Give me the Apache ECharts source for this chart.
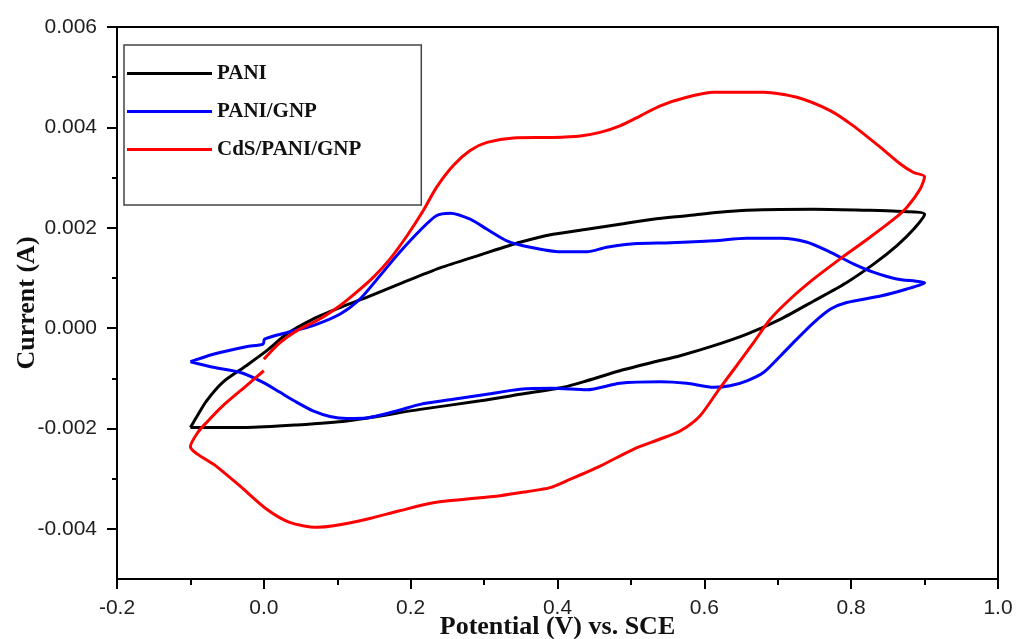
<!DOCTYPE html>
<html>
<head>
<meta charset="utf-8">
<title>Cyclic voltammetry</title>
<script src="https://cdn.jsdelivr.net/npm/echarts@6/dist/echarts.min.js"></script>
<style>
  html, body { margin: 0; padding: 0; background: #fff; }
  #chart { width: 1019px; height: 639px; }
</style>
</head>
<body>
<div id="chart"></div>
<script>
// Series names
const seriesNames = ['PANI', 'PANI/GNP', 'CdS/PANI/GNP'];
const seriesColors = ['#000000', '#0000ff', '#ff0000'];

// PANI: forward sweep then reverse sweep (potential in V, current in A)
const paniPotential = [
  -0.100, -0.092, -0.078, -0.056, -0.024, 0.004, 0.031, 0.067, 0.104, 0.140,
  0.185, 0.240, 0.295, 0.349, 0.394, 0.440, 0.485, 0.530, 0.576, 0.620,
  0.658, 0.749, 0.817, 0.862, 0.900,
  0.885, 0.862, 0.831, 0.794, 0.749, 0.704, 0.658, 0.613, 0.567, 0.530,
  0.485, 0.440, 0.408, 0.349, 0.295, 0.213, 0.113, 0.045, -0.024, -0.100
];
const paniCurrent = [
  -0.00198, -0.00178, -0.00145, -0.00108, -0.00075, -0.00045, -0.00012, 0.00018, 0.00041, 0.00061,
  0.00088, 0.00120, 0.00146, 0.00171, 0.00187, 0.00197, 0.00207, 0.00217, 0.00224, 0.00231,
  0.00235, 0.00237, 0.00235, 0.00233, 0.00227,
  0.00197, 0.00164, 0.00128, 0.00091, 0.00054, 0.00018, -0.00012, -0.00035, -0.00055, -0.00068,
  -0.00085, -0.00105, -0.00118, -0.00132, -0.00145, -0.00162, -0.00185, -0.00193, -0.00198, -0.00198
];

// PANI/GNP
const paniGnpPotential = [
  -0.100, -0.069, -0.024, -0.001, 0.001, 0.031, 0.067, 0.104, 0.131, 0.158,
  0.185, 0.213, 0.235, 0.254, 0.281, 0.304, 0.331, 0.363, 0.404, 0.440,
  0.467, 0.504, 0.554, 0.613, 0.658, 0.704, 0.740, 0.772, 0.803, 0.831,
  0.862, 0.900,
  0.876, 0.840, 0.794, 0.772, 0.749, 0.726, 0.704, 0.681, 0.658, 0.635,
  0.613, 0.576, 0.540, 0.485, 0.440, 0.394, 0.349, 0.304, 0.258, 0.213,
  0.181, 0.140, 0.113, 0.090, 0.067, 0.045, 0.022, -0.001, -0.033, -0.069,
  -0.100
];
const paniGnpCurrent = [
  -0.00067, -0.00052, -0.00037, -0.00032, -0.00022, -0.00009, 0.00005, 0.00028, 0.00058, 0.00104,
  0.00151, 0.00195, 0.00224, 0.00229, 0.00217, 0.00197, 0.00174, 0.00161, 0.00152, 0.00152,
  0.00161, 0.00168, 0.00170, 0.00174, 0.00179, 0.00179, 0.00171, 0.00151, 0.00128, 0.00111,
  0.00098, 0.00090,
  0.00078, 0.00064, 0.00051, 0.00038, 0.00011, -0.00022, -0.00055, -0.00088, -0.00105, -0.00115,
  -0.00118, -0.00110, -0.00107, -0.00110, -0.00123, -0.00120, -0.00122, -0.00132, -0.00142, -0.00152,
  -0.00165, -0.00179, -0.00180, -0.00176, -0.00165, -0.00148, -0.00128, -0.00108, -0.00088, -0.00078,
  -0.00067
];

// CdS/PANI/GNP: starts at 0.0 V, sweeps up to 0.9 V, down to -0.1 V and back to 0.0 V
const cdsPotential = [
  0.000, 0.022, 0.045, 0.076, 0.104, 0.126, 0.149, 0.172, 0.195, 0.217,
  0.235, 0.258, 0.281, 0.304, 0.340, 0.394, 0.431, 0.458, 0.485, 0.513,
  0.540, 0.576, 0.613, 0.681, 0.726, 0.772, 0.803, 0.840, 0.867, 0.885,
  0.900,
  0.894, 0.876, 0.858, 0.822, 0.785, 0.749, 0.717, 0.690, 0.667, 0.644,
  0.620, 0.594, 0.567, 0.540, 0.504, 0.458, 0.413, 0.390, 0.358, 0.322,
  0.231, 0.185, 0.140, 0.095, 0.072, 0.035, 0.004, -0.033, -0.065, -0.100,
  -0.090, -0.078, -0.056, -0.024, 0.000
];
const cdsCurrent = [
  -0.00062, -0.00029, -0.00005, 0.00018, 0.00045, 0.00071, 0.00101, 0.00138, 0.00184, 0.00234,
  0.00280, 0.00324, 0.00354, 0.00370, 0.00379, 0.00380, 0.00383, 0.00390, 0.00403, 0.00423,
  0.00443, 0.00460, 0.00470, 0.00470, 0.00460, 0.00433, 0.00403, 0.00360, 0.00327, 0.00310,
  0.00302,
  0.00277, 0.00241, 0.00217, 0.00177, 0.00138, 0.00098, 0.00058, 0.00018, -0.00029, -0.00075,
  -0.00122, -0.00175, -0.00205, -0.00221, -0.00241, -0.00275, -0.00304, -0.00318, -0.00326, -0.00334,
  -0.00348, -0.00364, -0.00381, -0.00394, -0.00397, -0.00387, -0.00361, -0.00314, -0.00275, -0.00236,
  -0.00208, -0.00188, -0.00155, -0.00115, -0.00085
];

// Axis ticks
const currentMajorTicks = [-0.004, -0.002, 0.000, 0.002, 0.004, 0.006];
const currentMinorTicks = [-0.003, -0.001, 0.001, 0.003, 0.005];
const potentialMin = -0.2, potentialMax = 1.0, potentialStep = 0.2;
const currentMin = -0.005, currentMax = 0.006;

function zip(xs, ys) { return xs.map((x, i) => [x, ys[i]]); }

const curves = [
  zip(paniPotential, paniCurrent),
  zip(paniGnpPotential, paniGnpCurrent),
  zip(cdsPotential, cdsCurrent)
];

const tickFont = { fontFamily: 'Liberation Sans', fontSize: 21, color: '#1e1e1e' };
const titleFont = { fontFamily: 'Liberation Serif', fontWeight: 'bold', fontSize: 26, color: '#111' };

const chart = echarts.init(document.getElementById('chart'), null, { renderer: 'canvas' });

chart.setOption({
  animation: false,
  backgroundColor: '#ffffff',
  grid: {
    left: 117, right: 21, top: 27, bottom: 60,
    outerBoundsMode: 'none',
    containLabel: false,
    show: true, borderColor: '#000', borderWidth: 2, backgroundColor: 'transparent'
  },
  legend: {
    orient: 'vertical',
    left: 124, top: 45,
    padding: [18, 60, 45, 3],
    icon: 'rect',
    itemWidth: 85, itemHeight: 3, itemGap: 17,
    borderColor: '#444', borderWidth: 1.5,
    data: seriesNames,
    textStyle: { fontFamily: 'Liberation Serif', fontWeight: 'bold', fontSize: 21, color: '#111' }
  },
  xAxis: {
    type: 'value',
    min: potentialMin, max: potentialMax, interval: potentialStep,
    name: 'Potential (V) vs. SCE',
    nameLocation: 'middle', nameGap: 35,
    nameMoveOverlap: false,
    nameTextStyle: titleFont,
    axisLine: { show: true, onZero: false, lineStyle: { color: '#000', width: 2 } },
    axisTick: { show: true, inside: false, length: 10, lineStyle: { color: '#000', width: 2 } },
    minorTick: { show: true, splitNumber: 2, length: 6, lineStyle: { color: '#000', width: 2 } },
    axisLabel: Object.assign({ margin: 19, formatter: v => (Math.abs(v) < 1e-9 ? 0 : v).toFixed(1) }, tickFont),
    splitLine: { show: false }
  },
  yAxis: [
    {
      type: 'value',
      min: currentMin, max: currentMax,
      position: 'left',
      name: 'Current (A)',
      nameLocation: 'middle', nameGap: 77,
      nameMoveOverlap: false,
      nameTextStyle: titleFont,
      axisLine: { show: true, onZero: false, lineStyle: { color: '#000', width: 2 } },
      axisTick: { show: true, inside: false, length: 10, customValues: currentMajorTicks, lineStyle: { color: '#000', width: 2 } },
      axisLabel: Object.assign({ margin: 20, customValues: currentMajorTicks, formatter: v => (Math.abs(v) < 1e-12 ? 0 : v).toFixed(3) }, tickFont),
      splitLine: { show: false }
    },
    {
      type: 'value',
      min: currentMin, max: currentMax,
      position: 'left',
      axisLine: { show: false, onZero: false },
      axisTick: { show: true, inside: false, length: 5, customValues: currentMinorTicks, lineStyle: { color: '#000', width: 2 } },
      axisLabel: { show: false, customValues: currentMinorTicks },
      splitLine: { show: false }
    }
  ],
  series: curves.map((data, i) => ({
    name: seriesNames[i],
    type: 'line',
    data: data,
    symbol: 'none',
    smooth: 0.25,
    color: seriesColors[i],
    lineStyle: { width: 3, color: seriesColors[i] },
    z: 3 + i
  }))
});
</script>
</body>
</html>
